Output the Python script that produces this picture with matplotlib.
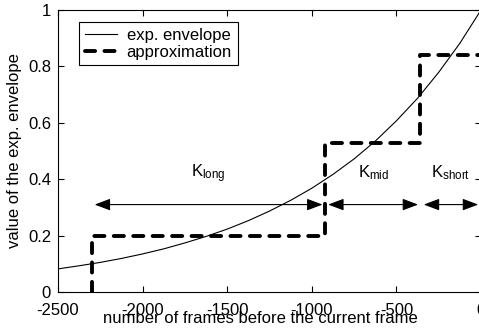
import numpy as np
import matplotlib
matplotlib.use('Agg')
import matplotlib.pyplot as plt
from matplotlib import rcParams

rcParams['font.family'] = 'sans-serif'
rcParams['font.sans-serif'] = ['Liberation Sans']
rcParams['mathtext.fontset'] = 'custom'
rcParams['mathtext.rm'] = 'Liberation Sans'
rcParams['axes.unicode_minus'] = False
rcParams['font.size'] = 12

# exponential envelope, sampled every 125 frames
env_x = [-2500, -2375, -2250, -2125, -2000, -1875, -1750, -1625, -1500, -1375, -1250,
         -1125, -1000, -875, -750, -625, -500, -375, -250, -125, 0]
env_y = [0.082, 0.093, 0.105, 0.119, 0.135, 0.153, 0.174, 0.197, 0.223, 0.253, 0.287,
         0.325, 0.368, 0.417, 0.472, 0.535, 0.607, 0.687, 0.779, 0.882, 1.000]

# piecewise constant approximation (segment edges and levels)
step_edges = [-2300, -920, -360, 0]
step_levels = [0.2, 0.53, 0.84]

# K segments marked with arrows
seg_names = ['long', 'mid', 'short']
arrow_edges = [-2300, -920, -355, 0]
arrow_y = 0.31
label_y = 0.405

xticks = [-2500, -2000, -1500, -1000, -500, 0]
yticks = [0, 0.2, 0.4, 0.6, 0.8, 1]
yticklabels = ['0', '0.2', '0.4', '0.6', '0.8', '1']

fig = plt.figure(figsize=(4.79, 3.33), dpi=100)
ax = fig.add_axes([58 / 479, 41 / 333, 423 / 479, 282 / 333])

ax.plot(env_x, env_y, color='black', lw=0.8, label='exp. envelope')

# build the staircase: start at y=0, rise at each edge
sx = [step_edges[0]]
sy = [0]
for i, lev in enumerate(step_levels):
    sx += [step_edges[i], step_edges[i + 1]]
    sy += [lev, lev]
line, = ax.plot(sx, sy, color='black', lw=2.8, label='approximation',
                dash_capstyle='round', solid_joinstyle='round')
line.set_dashes((2.6, 2.4))

for i, name in enumerate(seg_names):
    x0, x1 = arrow_edges[i], arrow_edges[i + 1]
    ax.annotate('', xy=(x1, arrow_y), xytext=(x0, arrow_y),
                arrowprops=dict(arrowstyle='<|-|>,head_length=0.8,head_width=0.3',
                                color='black', lw=0.8, shrinkA=2, shrinkB=2))
    ax.text((x0 + x1) / 2, label_y, r'K$_{\rm %s}$' % name,
            ha='center', va='baseline', fontsize=12)

ax.set_xlim(-2500, 0)
ax.set_ylim(0, 1)
ax.set_xticks(xticks)
ax.set_xticklabels([str(t) for t in xticks])
ax.set_yticks(yticks)
ax.set_yticklabels(yticklabels)
ax.tick_params(direction='in', top=True, right=True, length=4, width=0.8, labelsize=12)
ax.tick_params(axis='x', pad=8)
ax.tick_params(axis='y', pad=5)
for sp in ax.spines.values():
    sp.set_linewidth(0.8)

ax.set_xlabel('number of frames before the current frame', labelpad=-5)
ax.xaxis.label.set_x(0.478)
ax.set_ylabel('value of the exp. envelope', labelpad=4)

leg = ax.legend(loc='upper left', bbox_to_anchor=(0.05, 0.957), borderaxespad=0,
                fancybox=False, edgecolor='black', framealpha=1, handlelength=1.9,
                labelspacing=0.1, borderpad=0.35, handletextpad=0.6)
leg.get_frame().set_linewidth(0.8)

fig.savefig('out.png', dpi=100)
